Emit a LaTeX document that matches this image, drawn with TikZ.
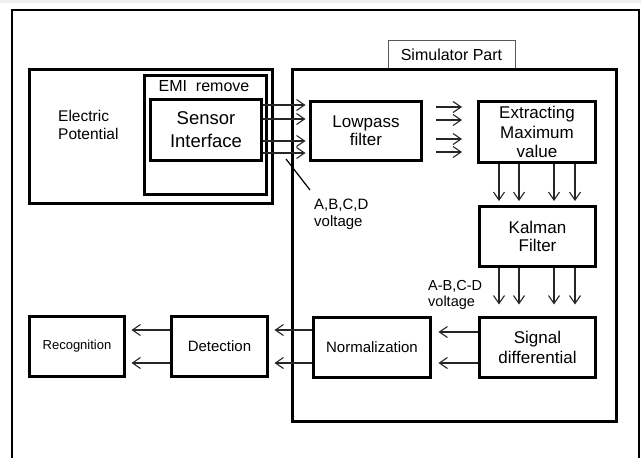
\documentclass[tikz,border=0pt]{standalone}
\usepackage{fontspec}
\setmainfont{Liberation Sans}
\usetikzlibrary{arrows.meta,calc}
\begin{document}
\begin{tikzpicture}[x=1pt,y=-1pt,
  blk/.style={draw=black, line width=3pt, align=center, inner sep=0pt},
  arr/.style={draw=black!85, line width=1.1pt, -{Straight Barb[length=8pt,width=11pt]}},
  lbl/.style={align=left, inner sep=0pt, anchor=west}
]
\useasboundingbox (0,0) rectangle (641,458);
\clip (0,0) rectangle (641,458);
\fill[black!6] (0,0) rectangle (641,3);
% outer frame
\coordinate (fbl) at (12,470);
\coordinate (ftl) at (12,10);
\coordinate (ftr) at (639,10);
\coordinate (fbr) at (639,470);
\draw[line width=2.5pt] (fbl) -- (ftl) -- (ftr) -- (fbr);

% left group
\node[blk, minimum width=243pt, minimum height=134pt] (elec) at (151,136.5) {};
\node[lbl, font=\fontsize{15.5}{18}\selectfont] (eptext) at (58,125) {Electric\\Potential};
\node[blk, minimum width=122pt, minimum height=119pt] (emi) at (205.5,135) {};
\node[inner sep=0pt, font=\fontsize{16}{19}\selectfont] (emitext) at (204,86) {EMI\ \ remove};
\node[blk, minimum width=111pt, minimum height=61pt, font=\fontsize{18.5}{23}\selectfont] (sensor) at (206,130) {Sensor\\Interface};

% simulator part
\node[draw=black!65, line width=0.8pt, minimum width=127pt, minimum height=29pt, inner sep=0pt, font=\fontsize{16}{19}\selectfont] (simlabel) at (451.5,54.5) {Simulator Part};
\node[blk, minimum width=324pt, minimum height=352pt] (sim) at (454.5,245.5) {};

\node[blk, minimum width=111pt, minimum height=59pt, font=\fontsize{17}{18}\selectfont] (lowpass) at (366,131) {Lowpass\\filter};
\node[blk, minimum width=117pt, minimum height=61pt, font=\fontsize{17}{19.5}\selectfont] (extract) at (537,132) {Extracting\\Maximum\\value};
\node[blk, minimum width=116pt, minimum height=60pt, font=\fontsize{17}{18.5}\selectfont] (kalman) at (537.5,236.5) {Kalman\\Filter};
\node[blk, minimum width=116pt, minimum height=60pt, font=\fontsize{17}{20}\selectfont] (signal) at (537.5,347.5) {Signal\\differential};
\node[blk, minimum width=117pt, minimum height=60pt, font=\fontsize{15}{18}\selectfont] (norm) at (372,347.5) {Normalization};
\node[blk, minimum width=96pt, minimum height=60pt, font=\fontsize{15}{18}\selectfont] (detect) at (219.5,346.5) {Detection};
\node[blk, minimum width=95pt, minimum height=60pt, font=\fontsize{13}{16}\selectfont] (recog) at (77,346.5) {Recognition};

% labels
\node[lbl, font=\fontsize{15}{17}\selectfont] (abcd) at (314,214.5) {A,B,C,D\\voltage};
\node[lbl, font=\fontsize{14.5}{16}\selectfont] (abcdd) at (428,295) {A-B,C-D\\voltage};

% pointer line
\coordinate (wirept) at (286,159);
\coordinate (lblpt) at (310,190);
\draw[line width=1.2pt] (wirept) -- (lblpt);

% sensor -> lowpass
\foreach \dy [count=\i] in {-25,-11,11,23} {
  \coordinate (s\i) at ($(sensor.east)+(0,\dy)$);
  \draw[arr, shorten >=3.5pt] (s\i) -- (s\i -| lowpass.west);
}
% lowpass -> extract (free arrows)
\foreach \dy [count=\i] in {-24,-11,8,21} {
  \coordinate (l\i) at ($(lowpass.east)+(13,\dy)$);
  \draw[arr, shorten >=15pt] (l\i) -- (l\i -| extract.west);
}
% extract -> kalman
\foreach \dx [count=\i] in {-38,-18,17,38} {
  \coordinate (e\i) at ($(extract.south)+(\dx,0)$);
  \draw[arr, shorten >=4pt] (e\i) -- (e\i |- kalman.north);
}
% kalman -> signal
\foreach \dx [count=\i] in {-38.5,-18.5,16.5,37.5} {
  \coordinate (k\i) at ($(kalman.south)+(\dx,0)$);
  \draw[arr, shorten >=11.5pt] (k\i) -- (k\i |- signal.north);
}
% signal -> norm
\foreach \dy [count=\i] in {-15.5,15.5} {
  \coordinate (g\i) at ($(signal.west)+(0,\dy)$);
  \draw[arr, shorten >=6.5pt] (g\i) -- (g\i -| norm.east);
}
% norm -> detect
\foreach \dy [count=\i] in {-17.5,15.5} {
  \coordinate (n\i) at ($(norm.west)+(0,\dy)$);
  \draw[arr, shorten >=5.5pt] (n\i) -- (n\i -| detect.east);
}
% detect -> recog
\foreach \dy [count=\i] in {-16.5,16.5} {
  \coordinate (d\i) at ($(detect.west)+(0,\dy)$);
  \draw[arr, shorten >=5.5pt] (d\i) -- (d\i -| recog.east);
}
\end{tikzpicture}
\end{document}
